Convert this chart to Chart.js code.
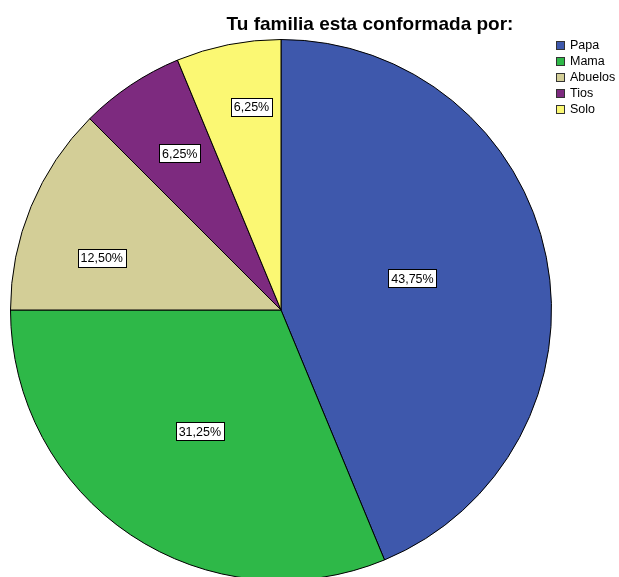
<!DOCTYPE html>
<html>
<head>
<meta charset="utf-8">
<script src="https://cdn.jsdelivr.net/npm/chart.js@4"></script>
<style>
  html, body { margin: 0; padding: 0; background: #fff; overflow: hidden; }
  #wrap { width: 619px; height: 577px; overflow: hidden; }
</style>
</head>
<body>
<div id="wrap"><canvas id="graph" width="619" height="590"></canvas></div>
<script>
const titleText = 'Tu familia esta conformada por:';
const labels = ['Papa', 'Mama', 'Abuelos', 'Tios', 'Solo'];
const percents = [43.75, 31.25, 12.50, 6.25, 6.25];
const colors = ['#3e58ac', '#2eb848', '#d3ce97', '#7d2a7f', '#fbf873'];

// where each % label sits: fraction of radius, and angle nudge in degrees
const labelRadius = [0.50, 0.54, 0.69, 0.69, 0.76];
const labelNudge = [-2.3, 0, -6.3, 0.9, 3];

const fontFam = '"Liberation Sans", Arial, sans-serif';

const extras = {
  id: 'extras',
  afterDraw(chart) {
    const ctx = chart.ctx;
    const meta = chart.getDatasetMeta(0);
    ctx.save();

    // percentage boxes
    ctx.font = '12.5px ' + fontFam;
    ctx.textAlign = 'center';
    ctx.textBaseline = 'middle';
    meta.data.forEach((arc, i) => {
      const p = arc.getProps(['x', 'y', 'startAngle', 'endAngle', 'outerRadius'], true);
      const a = (p.startAngle + p.endAngle) / 2 + labelNudge[i] * Math.PI / 180;
      const r = p.outerRadius * labelRadius[i];
      const x = p.x + Math.cos(a) * r;
      const y = p.y + Math.sin(a) * r;
      const txt = percents[i].toFixed(2).replace('.', ',') + '%';
      const w = ctx.measureText(txt).width + 6;
      const h = 18;
      ctx.fillStyle = '#fff';
      ctx.fillRect(Math.round(x - w / 2) + 0.5, Math.round(y - h / 2) + 0.5, Math.round(w), h);
      ctx.strokeStyle = '#000';
      ctx.lineWidth = 1;
      ctx.strokeRect(Math.round(x - w / 2) + 0.5, Math.round(y - h / 2) + 0.5, Math.round(w), h);
      ctx.fillStyle = '#000';
      ctx.fillText(txt, x, y + 1);
    });

    // title
    ctx.font = 'bold 19px ' + fontFam;
    ctx.textAlign = 'center';
    ctx.textBaseline = 'alphabetic';
    ctx.fillStyle = '#000';
    ctx.fillText(titleText, 370, 30);

    // legend
    ctx.font = '12.5px ' + fontFam;
    ctx.textAlign = 'left';
    ctx.textBaseline = 'middle';
    labels.forEach((lab, i) => {
      const y = 46 + i * 16;
      ctx.fillStyle = colors[i];
      ctx.fillRect(556.5, y - 4.5, 8, 8);
      ctx.strokeStyle = '#333';
      ctx.lineWidth = 1;
      ctx.strokeRect(556.5, y - 4.5, 8, 8);
      ctx.fillStyle = '#000';
      ctx.fillText(lab, 570, y);
    });
    ctx.restore();
  }
};

const data = {
  labels: labels,
  datasets: [{
    data: percents,
    backgroundColor: colors,
    borderColor: '#000',
    borderWidth: 1
  }]
};

const config = {
  type: 'pie',
  data: data,
  options: {
    responsive: false,
    animation: false,
    layout: { padding: { left: 10, top: 39, right: 67, bottom: 9 } },
    plugins: {
      legend: { display: false },
      title: { display: false },
      tooltip: { enabled: false }
    }
  },
  plugins: [extras]
};

const myChart = new Chart(document.getElementById('graph'), config);
</script>
</body>
</html>
